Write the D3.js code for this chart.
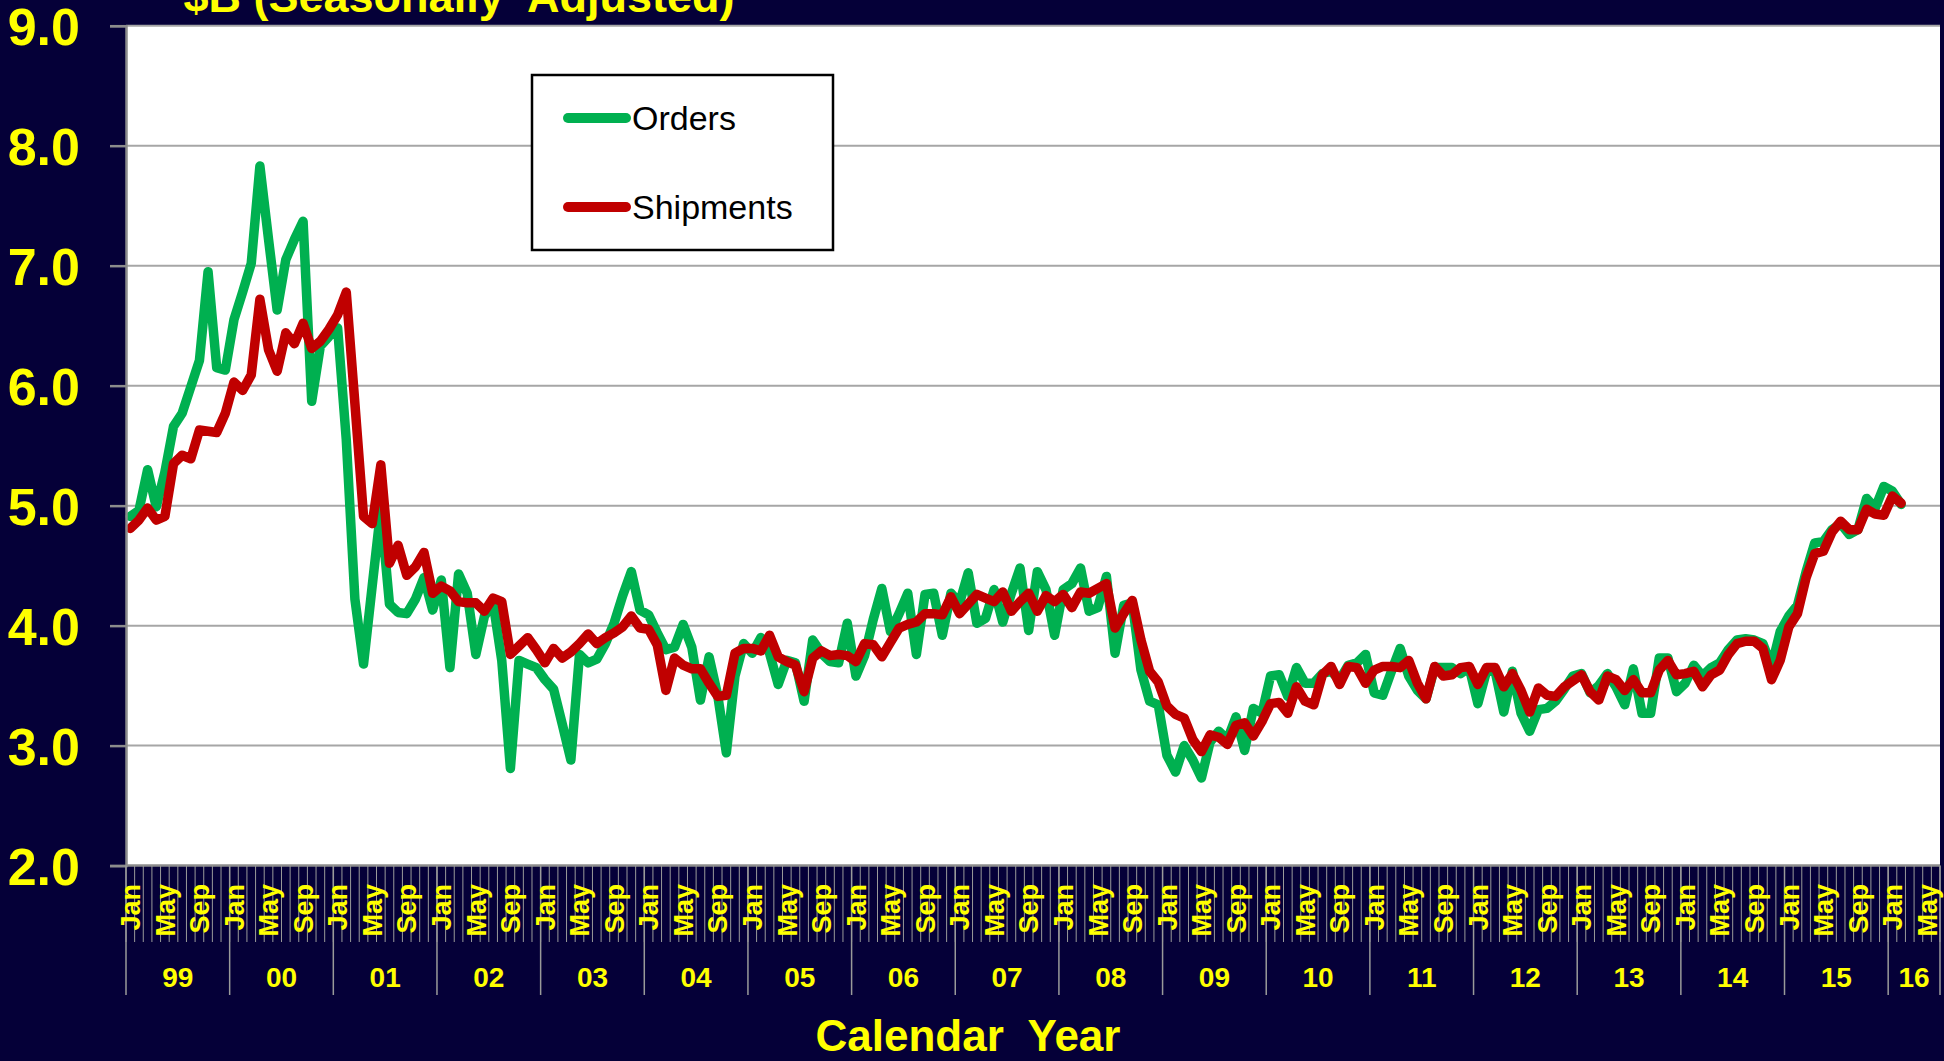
<!DOCTYPE html>
<html><head><meta charset="utf-8">
<script src="https://cdn.jsdelivr.net/npm/d3@7"></script>
<style>
html,body{margin:0;padding:0;background:#050038;}
svg{display:block;}
text{font-family:"Liberation Sans",Arial,sans-serif;}
</style></head><body>
<svg id="chart" width="1944" height="1061"></svg>
<script>
// ---------- data ----------
const years = ["99","00","01","02","03","04","05","06","07","08","09","10","11","12","13","14","15","16"];
const monthNames = ["Jan","Feb","Mar","Apr","May","Jun","Jul","Aug","Sep","Oct","Nov","Dec"];
const labelledMonths = ["Jan","May","Sep"];
const monthsInLastYear = 6;
const yTicks = [2,3,4,5,6,7,8,9];
const seriesNames = ["Orders","Shipments"];
const seriesColors = ["#00B050","#C00000"];
const titleText = "$B (Seasonally  Adjusted)";
const xTitleText = "Calendar  Year";

const orders = [
4.91,4.96,5.30,4.99,5.28,5.66,5.77,5.99,6.21,6.95,6.15,6.13,
6.55,6.78,7.02,7.83,7.22,6.63,7.05,7.22,7.37,5.87,6.33,6.41,
6.48,5.55,4.22,3.68,4.33,4.97,4.18,4.11,4.10,4.22,4.40,4.13,
4.38,3.65,4.43,4.27,3.76,4.08,4.19,3.71,2.81,3.71,3.68,3.65,
3.55,3.47,3.18,2.88,3.76,3.69,3.72,3.85,4.02,4.25,4.45,4.13,
4.09,3.94,3.80,3.82,4.01,3.82,3.38,3.74,3.42,2.94,3.58,3.85,
3.77,3.90,3.77,3.51,3.71,3.69,3.37,3.88,3.77,3.70,3.69,4.02,
3.58,3.75,4.05,4.31,3.95,4.10,4.27,3.76,4.26,4.27,3.92,4.27,
4.19,4.44,4.02,4.06,4.30,4.03,4.27,4.48,3.96,4.45,4.30,3.92,
4.30,4.35,4.48,4.12,4.15,4.41,3.77,4.17,4.19,3.63,3.37,3.34,
2.92,2.78,3.00,2.88,2.73,3.03,3.12,3.05,3.24,2.96,3.31,3.27,
3.58,3.59,3.41,3.65,3.52,3.52,3.60,3.62,3.55,3.67,3.69,3.76,
3.44,3.42,3.62,3.81,3.58,3.46,3.39,3.65,3.65,3.65,3.60,3.65,
3.35,3.62,3.62,3.28,3.62,3.27,3.12,3.30,3.31,3.37,3.47,3.58,
3.60,3.44,3.50,3.60,3.49,3.34,3.64,3.27,3.27,3.73,3.73,3.45,
3.52,3.67,3.58,3.65,3.69,3.80,3.88,3.89,3.88,3.85,3.66,3.95,
4.08,4.17,4.45,4.69,4.70,4.80,4.85,4.76,4.80,5.06,4.98,5.16,
5.12,5.01];

const shipments = [
4.81,4.88,4.98,4.88,4.91,5.35,5.42,5.39,5.63,5.62,5.61,5.77,
6.03,5.96,6.09,6.72,6.30,6.12,6.44,6.35,6.52,6.31,6.37,6.47,
6.59,6.78,5.85,4.91,4.85,5.34,4.52,4.67,4.42,4.49,4.61,4.27,
4.33,4.29,4.20,4.19,4.19,4.12,4.23,4.20,3.76,3.83,3.90,3.80,
3.69,3.81,3.73,3.78,3.85,3.93,3.85,3.90,3.94,3.99,4.08,3.98,
3.97,3.84,3.46,3.73,3.67,3.64,3.64,3.52,3.41,3.42,3.77,3.81,
3.81,3.79,3.92,3.74,3.70,3.67,3.45,3.73,3.79,3.75,3.76,3.75,
3.70,3.85,3.84,3.74,3.86,3.98,4.01,4.03,4.10,4.10,4.09,4.24,
4.10,4.18,4.26,4.23,4.20,4.28,4.12,4.20,4.27,4.12,4.25,4.20,
4.26,4.15,4.28,4.27,4.31,4.35,3.98,4.10,4.21,3.88,3.62,3.53,
3.33,3.26,3.23,3.05,2.95,3.09,3.07,3.01,3.17,3.19,3.08,3.20,
3.35,3.36,3.27,3.49,3.37,3.34,3.59,3.66,3.51,3.66,3.65,3.52,
3.63,3.66,3.66,3.65,3.71,3.52,3.39,3.66,3.58,3.59,3.65,3.66,
3.51,3.65,3.65,3.49,3.60,3.46,3.28,3.48,3.42,3.41,3.49,3.54,
3.59,3.45,3.38,3.58,3.55,3.46,3.55,3.44,3.44,3.63,3.71,3.59,
3.60,3.62,3.49,3.59,3.63,3.76,3.85,3.87,3.87,3.81,3.55,3.71,
3.99,4.10,4.40,4.60,4.62,4.78,4.87,4.80,4.80,4.97,4.93,4.92,
5.08,5.02];

// ---------- build categories ----------
const categories = [];
years.forEach((yr, yi) => {
  const n = (yi === years.length - 1) ? monthsInLastYear : 12;
  for (let m = 0; m < n; m++) categories.push({key: yr + "-" + monthNames[m], year: yr, month: monthNames[m]});
});
const keys = categories.map(c => c.key);

// ---------- layout ----------
const W = 1944, H = 1061;
const plot = {left: 126, right: 1940, top: 25.7, bottom: 865.6};
const bg = "#050038", yellow = "#FFFF00", gridCol = "#A6A6A6", axisCol = "#8C8C8C";

const svg = d3.select("#chart");
svg.append("rect").attr("width", W).attr("height", H).attr("fill", bg);

const x = d3.scaleBand().domain(keys).range([plot.left, plot.right]).paddingInner(0).paddingOuter(0);
const y = d3.scaleLinear().domain([2, 9]).range([plot.bottom, plot.top]);
const cx = k => x(k) + x.bandwidth() / 2;

// plot background
svg.append("rect").attr("x", plot.left).attr("y", plot.top)
  .attr("width", plot.right - plot.left).attr("height", plot.bottom - plot.top).attr("fill", "#FFFFFF");

// gridlines
svg.append("g").selectAll("line").data(yTicks.filter(d => d > 2)).join("line")
  .attr("x1", plot.left).attr("x2", plot.right)
  .attr("y1", d => y(d)).attr("y2", d => y(d))
  .attr("stroke", gridCol).attr("stroke-width", 2);

// title (partly cut off at top, as in the original)
svg.append("text").attr("x", 459).attr("y", 12).attr("text-anchor", "middle")
  .attr("fill", yellow).attr("font-size", 45).attr("font-weight", "bold")
  .style("white-space", "pre").text(titleText);

// series lines
const seriesData = [orders, shipments];
const line = d3.line().x((d, i) => cx(keys[i])).y(d => y(d));
seriesData.forEach((s, si) => {
  svg.append("path").datum(s).attr("d", line).attr("fill", "none")
    .attr("stroke", seriesColors[si]).attr("stroke-width", 9.5)
    .attr("stroke-linejoin", "round").attr("stroke-linecap", "round");
});

// y axis
const yAxis = d3.axisLeft(y).tickValues(yTicks).tickFormat(d3.format(".1f")).tickSize(16).tickPadding(30);
const gy = svg.append("g").attr("transform", `translate(${plot.left},0)`).call(yAxis);
gy.select(".domain").attr("stroke", axisCol).attr("stroke-width", 2.5);
gy.selectAll(".tick line").attr("stroke", axisCol).attr("stroke-width", 2.5);
gy.selectAll(".tick text").attr("fill", yellow).attr("font-size", 52).attr("font-weight", "bold")
  .attr("font-family", '"Liberation Sans",Arial,sans-serif').attr("dy", "0.36em");

// x axis line
svg.append("line").attr("x1", plot.left).attr("x2", plot.right)
  .attr("y1", plot.bottom).attr("y2", plot.bottom)
  .attr("stroke", axisCol).attr("stroke-width", 2.5);

// month tick marks (category boundaries)
const boundaries = keys.map(k => x(k)).concat([x(keys[keys.length - 1]) + x.bandwidth()]);
svg.append("g").selectAll("line").data(boundaries).join("line")
  .attr("x1", d => d).attr("x2", d => d)
  .attr("y1", plot.bottom).attr("y2", 942)
  .attr("stroke", "#9A9A9A").attr("stroke-width", 1);

// year separators
const yearStarts = years.map(yr => x(yr + "-Jan")).concat([x(keys[keys.length - 1]) + x.bandwidth()]);
svg.append("g").selectAll("line").data(yearStarts).join("line")
  .attr("x1", d => d).attr("x2", d => d)
  .attr("y1", plot.bottom).attr("y2", 995)
  .attr("stroke", "#9A9A9A").attr("stroke-width", 1.5);

// month labels
svg.append("g").selectAll("text").data(categories.filter(c => labelledMonths.includes(c.month))).join("text")
  .attr("transform", d => `translate(${cx(d.key)},884) rotate(-90)`)
  .attr("text-anchor", "end").attr("dy", "0.36em")
  .attr("fill", yellow).attr("font-size", 27).attr("font-weight", "bold")
  .text(d => d.month);

// year labels
svg.append("g").selectAll("text").data(years).join("text")
  .attr("x", (d, i) => (yearStarts[i] + yearStarts[i + 1]) / 2)
  .attr("y", 987).attr("text-anchor", "middle")
  .attr("fill", yellow).attr("font-size", 28).attr("font-weight", "bold")
  .text(d => d);

// x axis title
svg.append("text").attr("x", 968).attr("y", 1051).attr("text-anchor", "middle")
  .attr("fill", yellow).attr("font-size", 44).attr("font-weight", "bold")
  .style("white-space", "pre").text(xTitleText);

// legend
const lg = svg.append("g");
lg.append("rect").attr("x", 532).attr("y", 75).attr("width", 301).attr("height", 175)
  .attr("fill", "#FFFFFF").attr("stroke", "#000000").attr("stroke-width", 2.5);
const legendY = [118, 207];
seriesNames.forEach((name, i) => {
  lg.append("line").attr("x1", 568).attr("x2", 626).attr("y1", legendY[i]).attr("y2", legendY[i])
    .attr("stroke", seriesColors[i]).attr("stroke-width", 10).attr("stroke-linecap", "round");
  lg.append("text").attr("x", 632).attr("y", legendY[i]).attr("dy", "0.36em")
    .attr("fill", "#000000").attr("font-size", 34).text(name);
});
</script>
</body></html>
